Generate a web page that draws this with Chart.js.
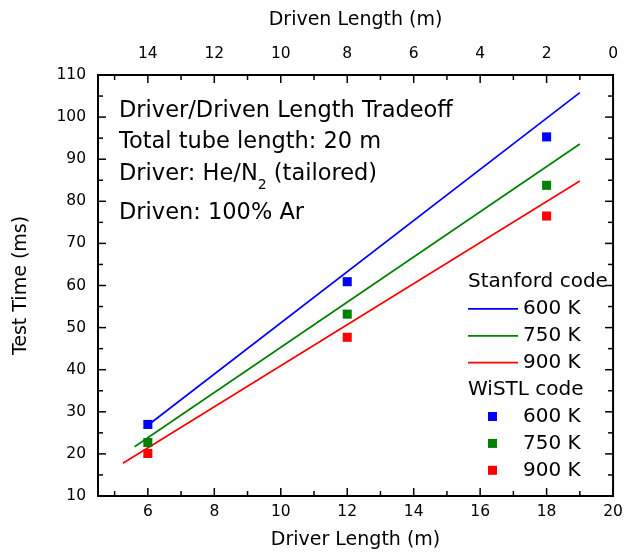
<!DOCTYPE html>
<html>
<head>
<meta charset="utf-8">
<script src="https://cdn.jsdelivr.net/npm/chart.js@4.4.0/dist/chart.umd.min.js"></script>
<style>
  html, body { margin: 0; padding: 0; background: #fff; }
</style>
</head>
<body>
<canvas id="tradeoff-chart" width="630" height="560"></canvas>
<script>
// shock tube test time vs driver length (total tube 20 m)
const totalLength = 20;
const driverMin = 4.5;

// WiSTL code results (squares)
const driverLengths = [6, 12, 18];
const wistl600 = [27.0, 60.9, 95.3];
const wistl750 = [22.7, 53.2, 83.8];
const wistl900 = [20.1, 47.7, 76.5];

// Stanford code lines (end points)
const stanfordX600 = [6.0, 19.0];
const stanford600 = [26.8, 105.8];
const stanfordX750 = [5.6, 19.0];
const stanford750 = [21.7, 93.6];
const stanfordX900 = [5.25, 19.0];
const stanford900 = [17.8, 84.8];

const tempLabels = ['600 K', '750 K', '900 K'];
const colors = ['#0000ff', '#008000', '#ff0000'];

const driverTicks = [6, 8, 10, 12, 14, 16, 18, 20];
const drivenTicks = [14, 12, 10, 8, 6, 4, 2, 0];
const timeTicks = [10, 20, 30, 40, 50, 60, 70, 80, 90, 100, 110];

const FONT = "'DejaVu Sans', sans-serif";

function toPoints(xs, ys) {
    return xs.map((x, i) => ({x: x, y: ys[i]}));
}

function setTicks(values) {
    return scale => { scale.ticks = values.map(v => ({value: v})); };
}

const tick = (ctx, x1, y1, x2, y2) => {
    ctx.beginPath();
    ctx.moveTo(x1, y1);
    ctx.lineTo(x2, y2);
    ctx.stroke();
};

// box, inward ticks, notes and legend
const frameAndNotes = {
    id: 'frameAndNotes',
    afterDatasetsDraw(chart) {
        const {ctx, chartArea: a, scales} = chart;
        ctx.save();
        ctx.strokeStyle = '#000';
        ctx.lineWidth = 1.5;

        // bottom / top
        driverTicks.forEach(v => {
            const px = scales.x.getPixelForValue(v);
            tick(ctx, px, a.bottom, px, a.bottom - 8);
        });
        for (let v = 5; v < 20; v += 2) {
            const px = scales.x.getPixelForValue(v);
            tick(ctx, px, a.bottom, px, a.bottom - 5);
        }
        drivenTicks.forEach(v => {
            const px = scales.xTop.getPixelForValue(v);
            tick(ctx, px, a.top, px, a.top + 8);
        });
        for (let v = 1; v < 16; v += 2) {
            const px = scales.xTop.getPixelForValue(v);
            tick(ctx, px, a.top, px, a.top + 5);
        }
        // left / right
        timeTicks.forEach(v => {
            const py = scales.y.getPixelForValue(v);
            tick(ctx, a.left, py, a.left + 8, py);
            tick(ctx, a.right, py, a.right - 8, py);
        });
        for (let v = 15; v < 110; v += 10) {
            const py = scales.y.getPixelForValue(v);
            tick(ctx, a.left, py, a.left + 5, py);
            tick(ctx, a.right, py, a.right - 5, py);
        }

        ctx.lineWidth = 2;
        ctx.strokeRect(a.left, a.top, a.right - a.left, a.bottom - a.top);

        // notes
        ctx.fillStyle = '#000';
        ctx.textAlign = 'left';
        ctx.textBaseline = 'alphabetic';
        ctx.font = '22.5px ' + FONT;
        const nx = 119;
        ctx.fillText('Driver/Driven Length Tradeoff', nx, 117);
        ctx.fillText('Total tube length: 20 m', nx, 148);
        let part = 'Driver: He/N';
        ctx.fillText(part, nx, 180);
        let w = ctx.measureText(part).width;
        ctx.font = '14px ' + FONT;
        ctx.fillText('2', nx + w, 189);
        w += ctx.measureText('2').width;
        ctx.font = '22.5px ' + FONT;
        ctx.fillText(' (tailored)', nx + w, 180);
        ctx.fillText('Driven: 100% Ar', nx, 219);

        // legend
        ctx.font = '20px ' + FONT;
        ctx.textBaseline = 'middle';
        const lx = 468, ly = 282, row = 26.9;
        ctx.fillText('Stanford code', lx, ly);
        tempLabels.forEach((t, i) => {
            const y = ly + row * (i + 1);
            ctx.strokeStyle = colors[i];
            ctx.lineWidth = 1.8;
            tick(ctx, lx, y, lx + 50, y);
            ctx.fillText(t, lx + 55, y);
        });
        ctx.fillText('WiSTL code', lx, ly + row * 4);
        tempLabels.forEach((t, i) => {
            const y = ly + row * (i + 5);
            ctx.fillStyle = colors[i];
            ctx.fillRect(lx + 20, y - 4.5, 9, 9);
            ctx.fillStyle = '#000';
            ctx.fillText(t, lx + 55, y);
        });
        ctx.restore();
    }
};

const squares = [wistl600, wistl750, wistl900].map((vals, i) => ({
    label: 'WiSTL ' + tempLabels[i],
    data: toPoints(driverLengths, vals),
    pointStyle: 'rect',
    pointRadius: 6.4,
    backgroundColor: colors[i],
    borderColor: colors[i],
    borderWidth: 0,
    order: 1
}));

const lines = [[stanfordX600, stanford600], [stanfordX750, stanford750], [stanfordX900, stanford900]]
    .map(([xs, ys], i) => ({
        label: 'Stanford ' + tempLabels[i],
        data: toPoints(xs, ys),
        showLine: true,
        pointRadius: 0,
        borderColor: colors[i],
        borderWidth: 1.7,
        order: 2
    }));

const tickFont = {family: FONT, size: 15.5};
const titleFont = {family: FONT, size: 19};

new Chart(document.getElementById('tradeoff-chart').getContext('2d'), {
    type: 'scatter',
    data: {datasets: squares.concat(lines)},
    options: {
        responsive: false,
        animation: false,
        layout: {padding: {right: 9, top: 0, left: 0, bottom: 0}},
        plugins: {legend: {display: false}, tooltip: {enabled: false}},
        scales: {
            x: {
                type: 'linear', position: 'bottom',
                min: driverMin, max: totalLength,
                grid: {display: false, drawTicks: false},
                border: {display: false},
                afterBuildTicks: setTicks(driverTicks),
                afterFit: s => { s.height = 64; },
                ticks: {font: tickFont, color: '#000', padding: 7, maxRotation: 0},
                title: {display: true, text: 'Driver Length (m)', font: titleFont, color: '#000', padding: {top: 0, bottom: 9}}
            },
            xTop: {
                type: 'linear', position: 'top',
                min: 0, max: totalLength - driverMin, reverse: true,
                grid: {display: false, drawTicks: false},
                border: {display: false},
                afterBuildTicks: setTicks(drivenTicks),
                afterFit: s => { s.height = 75; },
                ticks: {font: tickFont, color: '#000', padding: 12, maxRotation: 0},
                title: {display: true, text: 'Driven Length (m)', font: titleFont, color: '#000', padding: {top: 9, bottom: 0}}
            },
            y: {
                type: 'linear', position: 'left',
                min: 10, max: 110,
                grid: {display: false, drawTicks: false},
                border: {display: false},
                afterBuildTicks: setTicks(timeTicks),
                afterFit: s => { s.width = 98; },
                ticks: {font: tickFont, color: '#000', padding: 12},
                title: {display: true, text: 'Test Time (ms)', font: titleFont, color: '#000', padding: {top: 10, bottom: 0}}
            }
        }
    },
    plugins: [frameAndNotes]
});
</script>
</body>
</html>
